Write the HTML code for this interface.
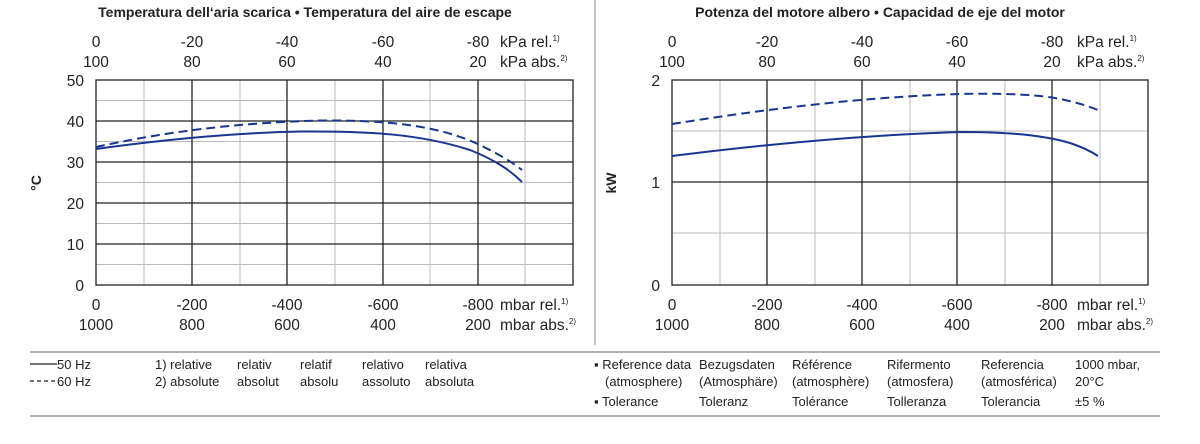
<!DOCTYPE html>
<html><head><meta charset="utf-8"><style>
body{margin:0;background:#fff;}
svg text{font-family:"Liberation Sans",Arial,sans-serif;fill:#222;}
</style></head><body>
<svg width="1200" height="439" viewBox="0 0 1200 439" xmlns="http://www.w3.org/2000/svg">
<rect width="1200" height="439" fill="#fff"/>
<g font-size="15.5">
<!-- LEFT -->
<text x="305" y="17" text-anchor="middle" font-weight="bold" font-size="14">Temperatura dell‘aria scarica  •  Temperatura del aire de escape</text>
<g text-anchor="middle">
<text x="96" y="47">0</text><text x="192" y="47">-20</text><text x="287" y="47">-40</text><text x="383" y="47">-60</text><text x="478" y="47">-80</text>
<text x="96" y="67">100</text><text x="192" y="67">80</text><text x="287" y="67">60</text><text x="383" y="67">40</text><text x="478" y="67">20</text>
<text x="96" y="310">0</text><text x="192" y="310">-200</text><text x="287" y="310">-400</text><text x="383" y="310">-600</text><text x="478" y="310">-800</text>
<text x="96" y="330">1000</text><text x="192" y="330">800</text><text x="287" y="330">600</text><text x="383" y="330">400</text><text x="478" y="330">200</text>
</g>
<text x="500" y="47">kPa rel.<tspan font-size="8" dy="-6">1)</tspan></text>
<text x="500" y="67">kPa abs.<tspan font-size="8" dy="-6">2)</tspan></text>
<text x="500" y="310">mbar rel.<tspan font-size="8" dy="-6">1)</tspan></text>
<text x="500" y="330">mbar abs.<tspan font-size="8" dy="-6">2)</tspan></text>
<g text-anchor="end">
<text x="84" y="86">50</text><text x="84" y="127">40</text><text x="84" y="168">30</text><text x="84" y="209">20</text><text x="84" y="250">10</text><text x="84" y="291">0</text>
</g>
<text transform="translate(41,183) rotate(-90)" text-anchor="middle" font-weight="bold" font-size="14">°C</text>
<g stroke="#bbb" stroke-width="1">
<line x1="144" y1="80" x2="144" y2="285"/><line x1="240" y1="80" x2="240" y2="285"/><line x1="335" y1="80" x2="335" y2="285"/><line x1="430" y1="80" x2="430" y2="285"/><line x1="525" y1="80" x2="525" y2="285"/>
<line x1="96" y1="100.5" x2="573" y2="100.5"/><line x1="96" y1="141.5" x2="573" y2="141.5"/><line x1="96" y1="182.5" x2="573" y2="182.5"/><line x1="96" y1="223.5" x2="573" y2="223.5"/><line x1="96" y1="264.5" x2="573" y2="264.5"/>
</g>
<g stroke="#222" stroke-width="1.3">
<line x1="192" y1="80" x2="192" y2="285"/><line x1="287" y1="80" x2="287" y2="285"/><line x1="383" y1="80" x2="383" y2="285"/><line x1="478" y1="80" x2="478" y2="285"/>
<line x1="96" y1="121" x2="573" y2="121"/><line x1="96" y1="162" x2="573" y2="162"/><line x1="96" y1="203" x2="573" y2="203"/><line x1="96" y1="244" x2="573" y2="244"/>
<rect x="96" y="80" width="477" height="205" fill="none"/>
</g>
<path d="M96,149 C160,140 230,133 300,131.5 C370,131 420,134 470,150 C495,160 510,170 522,182" fill="none" stroke="#1a3591" stroke-width="2"/>
<path d="M96,147 C160,133 230,123 320,120.5 C390,120 440,126 480,145 C500,155 512,162 522,170" fill="none" stroke="#1a3591" stroke-width="2" stroke-dasharray="9,5"/>

<line x1="595" y1="0" x2="595" y2="345" stroke="#999" stroke-width="1.2"/>

<!-- RIGHT -->
<text x="880" y="17" text-anchor="middle" font-weight="bold" font-size="14">Potenza del motore albero  •  Capacidad de eje del motor</text>
<g text-anchor="middle">
<text x="672" y="47">0</text><text x="767" y="47">-20</text><text x="862" y="47">-40</text><text x="957" y="47">-60</text><text x="1052" y="47">-80</text>
<text x="672" y="67">100</text><text x="767" y="67">80</text><text x="862" y="67">60</text><text x="957" y="67">40</text><text x="1052" y="67">20</text>
<text x="672" y="310">0</text><text x="767" y="310">-200</text><text x="862" y="310">-400</text><text x="957" y="310">-600</text><text x="1052" y="310">-800</text>
<text x="672" y="330">1000</text><text x="767" y="330">800</text><text x="862" y="330">600</text><text x="957" y="330">400</text><text x="1052" y="330">200</text>
</g>
<text x="1077" y="47">kPa rel.<tspan font-size="8" dy="-6">1)</tspan></text>
<text x="1077" y="67">kPa abs.<tspan font-size="8" dy="-6">2)</tspan></text>
<text x="1077" y="310">mbar rel.<tspan font-size="8" dy="-6">1)</tspan></text>
<text x="1077" y="330">mbar abs.<tspan font-size="8" dy="-6">2)</tspan></text>
<g text-anchor="end">
<text x="660" y="86">2</text><text x="660" y="188">1</text><text x="660" y="291">0</text>
</g>
<text transform="translate(616,183) rotate(-90)" text-anchor="middle" font-weight="bold" font-size="14">kW</text>
<g stroke="#bbb" stroke-width="1">
<line x1="720" y1="80" x2="720" y2="285"/><line x1="815" y1="80" x2="815" y2="285"/><line x1="910" y1="80" x2="910" y2="285"/><line x1="1005" y1="80" x2="1005" y2="285"/><line x1="1100" y1="80" x2="1100" y2="285"/>
<line x1="672" y1="131" x2="1148" y2="131"/><line x1="672" y1="233" x2="1148" y2="233"/>
</g>
<g stroke="#222" stroke-width="1.3">
<line x1="767" y1="80" x2="767" y2="285"/><line x1="862" y1="80" x2="862" y2="285"/><line x1="957" y1="80" x2="957" y2="285"/><line x1="1052" y1="80" x2="1052" y2="285"/>
<line x1="672" y1="182" x2="1148" y2="182"/>
<rect x="672" y="80" width="476" height="205" fill="none"/>
</g>
<path d="M672,156 C760,145 860,135 960,132 C1020,132 1050,137 1070,143 C1085,148 1092,152 1098,156" fill="none" stroke="#1a3591" stroke-width="2"/>
<path d="M672,124 C760,110 860,97 960,94 C1010,93 1040,95 1060,99 C1080,103 1090,107 1098,110" fill="none" stroke="#1a3591" stroke-width="2" stroke-dasharray="9,5"/>

<!-- bottom -->
<line x1="30" y1="352" x2="1160" y2="352" stroke="#999" stroke-width="1.5"/>
<line x1="30" y1="416" x2="1160" y2="416" stroke="#999" stroke-width="1.5"/>
<g font-size="13">
<line x1="30" y1="364" x2="57" y2="364" stroke="#222" stroke-width="1.2"/>
<text x="57" y="369">50 Hz</text>
<line x1="30" y1="381" x2="57" y2="381" stroke="#222" stroke-width="1.2" stroke-dasharray="4,3"/>
<text x="57" y="386">60 Hz</text>
<text x="155" y="369">1)  relative</text><text x="155" y="386">2)  absolute</text>
<text x="237" y="369">relativ</text><text x="237" y="386">absolut</text>
<text x="300" y="369">relatif</text><text x="300" y="386">absolu</text>
<text x="362" y="369">relativo</text><text x="362" y="386">assoluto</text>
<text x="425" y="369">relativa</text><text x="425" y="386">absoluta</text>

<text x="594" y="369">▪ Reference data</text><text x="605" y="386">(atmosphere)</text><text x="594" y="406">▪ Tolerance</text>
<text x="699" y="369">Bezugsdaten</text><text x="699" y="386">(Atmosphäre)</text><text x="699" y="406">Toleranz</text>
<text x="792" y="369">Référence</text><text x="792" y="386">(atmosphère)</text><text x="792" y="406">Tolérance</text>
<text x="887" y="369">Rifermento</text><text x="887" y="386">(atmosfera)</text><text x="887" y="406">Tolleranza</text>
<text x="981" y="369">Referencia</text><text x="981" y="386">(atmosférica)</text><text x="981" y="406">Tolerancia</text>
<text x="1075" y="369">1000 mbar,</text><text x="1075" y="386">20°C</text><text x="1075" y="406">±5 %</text>
</g>
</g>
</svg>
</body></html>
